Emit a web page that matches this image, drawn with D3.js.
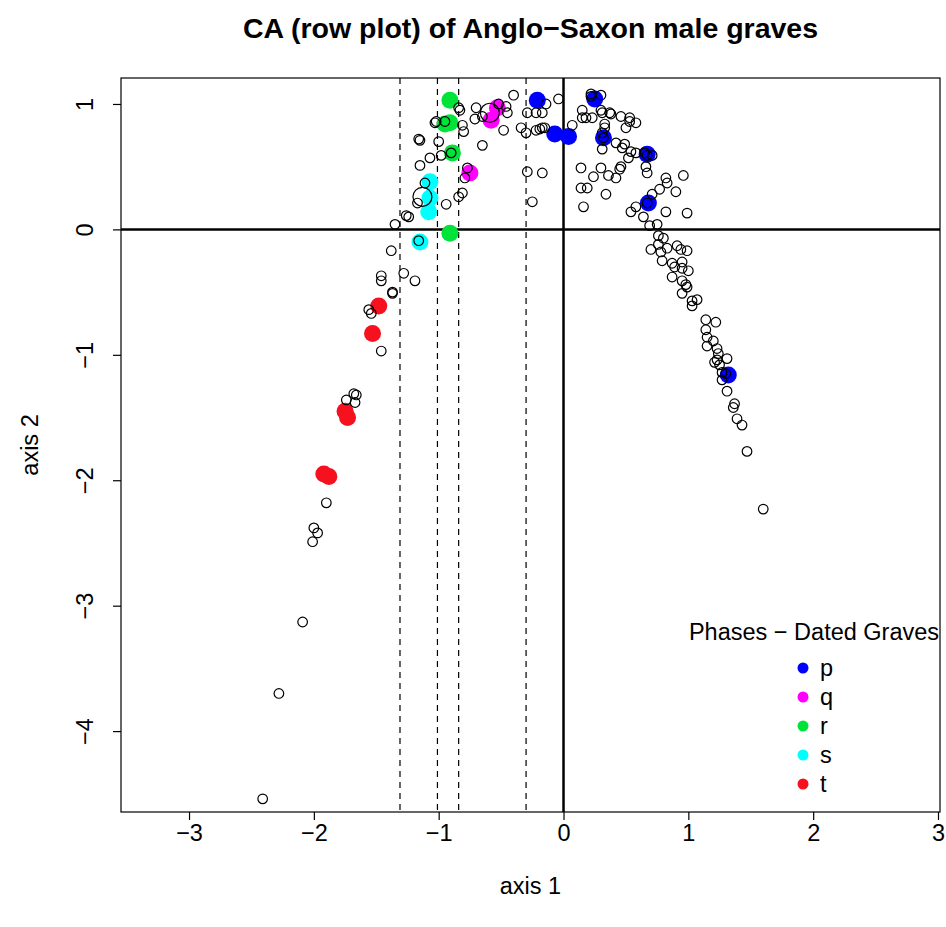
<!DOCTYPE html>
<html>
<head>
<meta charset="utf-8">
<script src="https://cdn.jsdelivr.net/npm/d3@7/dist/d3.min.js"></script>
<style>
  body { margin: 0; background: #fff; }
  text { font-family: "Liberation Sans", Arial, sans-serif; }
</style>
</head>
<body>
<div id="plot"></div>
<script>
// Graves (rows) on CA axes 1 and 2 - undated graves
const graveX = [-1.35,-1.26,-1.24,-1.38,-1.16,-1.15,-1.07,-0.98,-1.00,-1.16,-1.15,-1.03,-1.02,-0.95,-0.90,
  -0.84,-0.83,-0.81,-0.80,-0.70,-0.71,-0.65,-0.65,-0.77,-0.79,-0.81,-0.84,-0.94,-1.11,-1.17,
  -0.52,-0.46,-0.45,-0.48,-0.40,-0.29,-0.22,-0.17,-0.14,-0.04,-0.34,-0.30,-0.22,-0.19,-0.17,-0.15,
  -0.29,-0.17,-0.25,0.07,0.22,0.22,0.30,0.15,0.15,0.18,0.23,0.30,0.31,0.37,0.38,0.46,0.53,0.53,0.58,0.50,
  0.33,0.33,0.31,0.32,0.31,0.42,0.49,0.47,0.54,0.58,0.52,0.65,0.67,0.71,0.14,0.30,0.46,0.45,
  0.14,0.19,0.16,0.24,0.36,0.42,0.34,0.66,0.67,0.82,0.83,0.77,0.90,0.96,0.71,0.58,0.54,0.67,0.64,0.82,0.99,
  0.69,0.75,0.76,0.80,0.76,0.83,0.91,0.94,0.99,0.70,0.78,0.79,0.87,0.89,0.95,0.95,1.00,0.87,0.95,0.98,0.99,0.95,
  1.03,1.07,1.03,1.14,1.22,1.14,1.15,1.20,1.15,1.23,1.24,1.31,1.23,1.21,1.25,1.27,1.30,1.27,1.31,
  1.37,1.36,1.39,1.43,1.47,1.60,
  -1.46,-1.46,-1.28,-1.19,-1.37,-1.37,-1.56,-1.54,-1.46,-1.68,-1.66,-1.74,-1.67,
  -1.90,-2.00,-1.97,-2.01,-2.09,-2.28,-2.41];
const graveY = [0.04,0.11,0.10,-0.17,-0.09,0.51,0.57,0.59,0.70,0.72,0.71,0.85,0.86,0.86,0.61,
  0.97,0.95,0.83,0.78,0.97,0.88,0.90,0.67,0.49,0.41,0.29,0.26,0.20,0.37,0.21,
  1.00,0.98,0.93,0.79,1.07,0.93,0.93,0.93,1.00,1.04,0.81,0.77,0.79,0.80,0.81,0.81,
  0.46,0.45,0.22,0.83,1.08,1.06,1.07,0.95,0.89,0.89,0.89,0.95,0.93,0.93,0.92,0.90,0.89,0.86,0.85,0.81,
  0.84,0.81,0.77,0.73,0.64,0.69,0.68,0.65,0.62,0.61,0.57,0.61,0.59,0.59,0.49,0.49,0.50,0.48,
  0.33,0.33,0.18,0.42,0.43,0.41,0.28,0.50,0.45,0.41,0.37,0.32,0.30,0.43,0.28,0.18,0.14,0.21,0.10,0.14,0.13,
  0.03,0.04,-0.05,-0.07,-0.12,-0.15,-0.13,-0.16,-0.17,-0.16,-0.18,-0.25,-0.27,-0.30,-0.26,-0.31,-0.33,-0.38,-0.41,-0.44,-0.46,-0.51,
  -0.57,-0.56,-0.61,-0.72,-0.74,-0.80,-0.86,-0.89,-0.93,-0.95,-0.99,-1.03,-1.04,-1.06,-1.08,-1.14,-1.15,-1.20,-1.29,
  -1.39,-1.42,-1.51,-1.56,-1.77,-2.23,
  -0.37,-0.41,-0.35,-0.41,-0.51,-0.50,-0.64,-0.67,-0.97,-1.31,-1.32,-1.36,-1.38,
  -2.18,-2.38,-2.42,-2.49,-3.13,-3.70,-4.54];

// two graves drawn with a larger open symbol
const bigX = [-1.13, -0.59];
const bigY = [0.26, 0.93];

// dated graves by phase
const phases = ["p", "q", "r", "s", "t"];
const phaseColors = ["#0000ff", "#ff00ff", "#00e43a", "#00ffff", "#f5121e"];
const datedPhase = ["p","p","p","p","p","p","p","p","q","q","q","r","r","r","r","r","s","s","s","s","t","t","t","t","t","t"];
const datedX = [-0.21,-0.07,0.04,0.25,0.32,0.67,0.68,1.32,-0.53,-0.58,-0.75,-0.91,-0.91,-0.95,-0.89,-0.91,
  -1.07,-1.07,-1.08,-1.15,-1.48,-1.53,-1.75,-1.73,-1.92,-1.88];
const datedY = [1.03,0.76,0.74,1.04,0.73,0.60,0.21,-1.16,0.97,0.87,0.45,1.03,0.85,0.84,0.61,-0.03,
  0.38,0.25,0.14,-0.10,-0.61,-0.83,-1.45,-1.50,-1.95,-1.97];

// phase boundaries on axis 1
const cutPoints = [-1.31, -1.01, -0.84, -0.30];

const xTicks = [-3, -2, -1, 0, 1, 2, 3];
const yTicks = [-4, -3, -2, -1, 0, 1];

const W = 946, H = 927;
const margin = { top: 78, right: 6, bottom: 115, left: 121 };
const width = W - margin.left - margin.right;
const height = H - margin.top - margin.bottom;

const svg = d3.select("#plot").append("svg")
  .attr("width", W).attr("height", H);

const g = svg.append("g")
  .attr("transform", `translate(${margin.left},${margin.top})`);

const x = d3.scaleLinear().domain([-3.545, 3.016]).range([0, width]);
const y = d3.scaleLinear().domain([-4.645, 1.207]).range([height, 0]);

const fmt = d3.format("d");

// title
svg.append("text")
  .attr("x", margin.left + width / 2).attr("y", 38)
  .attr("text-anchor", "middle")
  .style("font-size", "28.5px").style("font-weight", "bold")
  .text("CA (row plot) of Anglo\u2212Saxon male graves");

// axes
const xAxis = g.append("g")
  .attr("transform", `translate(0,${height})`)
  .call(d3.axisBottom(x).tickValues(xTicks).tickFormat(fmt).tickSize(8).tickPadding(4));
const yAxis = g.append("g")
  .call(d3.axisLeft(y).tickValues(yTicks).tickFormat(fmt).tickSize(8));

[xAxis, yAxis].forEach(a => {
  a.select(".domain").remove();
  a.selectAll("line").attr("stroke", "#000").attr("stroke-width", 1.2);
  a.selectAll("text").style("font-size", "23.5px").attr("fill", "#000");
});
yAxis.selectAll(".tick text")
  .attr("text-anchor", "middle")
  .attr("transform", "translate(-36,0) rotate(-90)")
  .attr("x", 0).attr("dy", "0.35em");

// axis titles
svg.append("text")
  .attr("x", margin.left + width / 2).attr("y", 894)
  .attr("text-anchor", "middle").style("font-size", "23.5px")
  .text("axis 1");
svg.append("text")
  .attr("transform", `translate(38,${margin.top + height / 2}) rotate(-90)`)
  .attr("text-anchor", "middle").style("font-size", "23.5px")
  .text("axis 2");

// dashed phase boundaries
g.selectAll(".cut").data(cutPoints).enter().append("line")
  .attr("x1", d => x(d)).attr("x2", d => x(d))
  .attr("y1", 0).attr("y2", height)
  .attr("stroke", "#000").attr("stroke-width", 1.2)
  .attr("stroke-dasharray", "6,5");

// zero lines
g.append("line")
  .attr("x1", 0).attr("x2", width).attr("y1", y(0)).attr("y2", y(0))
  .attr("stroke", "#000").attr("stroke-width", 2.5);
g.append("line")
  .attr("x1", x(0)).attr("x2", x(0)).attr("y1", 0).attr("y2", height)
  .attr("stroke", "#000").attr("stroke-width", 2.5);

const color = d3.scaleOrdinal().domain(phases).range(phaseColors);

// dated graves (filled)
g.selectAll(".dated").data(datedX).enter().append("circle")
  .attr("cx", d => x(d))
  .attr("cy", (d, i) => y(datedY[i]))
  .attr("r", 8.5)
  .attr("fill", (d, i) => color(datedPhase[i]));

// all graves (open)
g.selectAll(".grave").data(graveX).enter().append("circle")
  .attr("cx", d => x(d))
  .attr("cy", (d, i) => y(graveY[i]))
  .attr("r", 4.8)
  .attr("fill", "none").attr("stroke", "#000").attr("stroke-width", 1.2);

g.selectAll(".big").data(bigX).enter().append("circle")
  .attr("cx", d => x(d))
  .attr("cy", (d, i) => y(bigY[i]))
  .attr("r", 9.5)
  .attr("fill", "none").attr("stroke", "#000").attr("stroke-width", 1.2);

// plot box
g.append("rect")
  .attr("width", width).attr("height", height)
  .attr("fill", "none").attr("stroke", "#000").attr("stroke-width", 1.2);

// legend
const legend = svg.append("g");
legend.append("text")
  .attr("x", 814).attr("y", 640)
  .attr("text-anchor", "middle").style("font-size", "23.5px")
  .text("Phases \u2212 Dated Graves");
const items = legend.selectAll(".item").data(phases).enter().append("g")
  .attr("transform", (d, i) => `translate(803,${668 + i * 29})`);
items.append("circle").attr("r", 5.5).attr("fill", d => color(d));
items.append("text")
  .attr("x", 17).attr("dy", "0.35em").style("font-size", "23.5px")
  .text(d => d);
</script>
</body>
</html>
